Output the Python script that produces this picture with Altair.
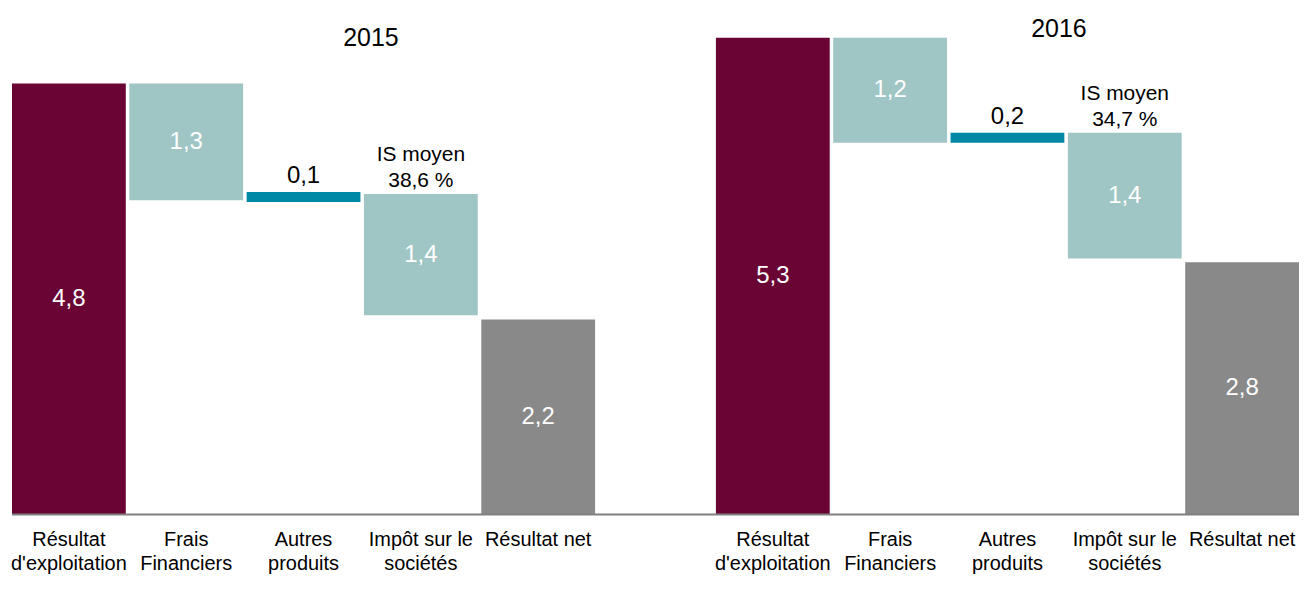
import altair as alt
import pandas as pd

categories = ["Résultat\nd'exploitation", "Frais\nFinanciers", "Autres\nproduits",
              "Impôt sur le\nsociétés", "Résultat net"]
kinds = ["total", "neg", "pos", "neg", "net"]

start_2015 = [0.0, 4.80, 3.48, 3.57, 0.0]
end_2015 = [4.80, 3.50, 3.59, 2.22, 2.17]
text_2015 = ["4,8", "1,3", "0,1", "1,4", "2,2"]

start_2016 = [0.0, 5.31, 4.14, 4.25, 0.0]
end_2016 = [5.31, 4.14, 4.25, 2.85, 2.81]
text_2016 = ["5,3", "1,2", "0,2", "1,4", "2,8"]

note_line1 = {"2015": "IS moyen", "2016": "IS moyen"}
note_line2 = {"2015": "38,6 %", "2016": "34,7 %"}

colors = {"total": "#6a0434", "neg": "#9fc5c4", "pos": "#0089a6", "net": "#898989"}

rows = []
for yr, st, en, tx in [("2015", start_2015, end_2015, text_2015),
                       ("2016", start_2016, end_2016, text_2016)]:
    for i, c in enumerate(categories):
        rows.append(dict(id=f"{yr}_{i}", year=yr, cat=c, kind=kinds[i],
                         lo=min(st[i], en[i]), hi=max(st[i], en[i]),
                         mid=(st[i] + en[i]) / 2, txt=tx[i],
                         n1=note_line1[yr] if i == 3 else "",
                         n2=note_line2[yr] if i == 3 else ""))
df = pd.DataFrame(rows)
domain = [f"2015_{i}" for i in range(5)] + ["gap"] + [f"2016_{i}" for i in range(5)]

FONT = "Liberation Sans, Arial, sans-serif"
W, H = 1290, 507

xscale = alt.Scale(domain=domain, paddingInner=0.03, paddingOuter=0)
yscale = alt.Scale(domain=[0, 5.633], nice=False)


def X(**kw):
    return alt.X("id:N", scale=xscale, axis=None, **kw)


base = alt.Chart(df)

bars = base.mark_bar().encode(
    x=X(),
    y=alt.Y("lo:Q", scale=yscale, axis=None), y2="hi:Q",
    color=alt.Color("kind:N", scale=alt.Scale(domain=list(colors.keys()),
                                              range=list(colors.values())), legend=None),
)

baseline = alt.Chart(pd.DataFrame({"v": [0.0]})).mark_rule(
    color="#808080", strokeWidth=2).encode(
    y=alt.Y("v:Q", scale=yscale, axis=None), x=alt.value(0), x2=alt.value(W))

inside = base.transform_filter("datum.kind != 'pos'").mark_text(
    color="white", fontSize=24, font=FONT, baseline="middle").encode(
    x=X(), y=alt.Y("mid:Q", scale=yscale, axis=None), text="txt:N")

above = base.transform_filter("datum.kind == 'pos'").mark_text(
    color="black", fontSize=24, font=FONT, baseline="alphabetic", dy=-9).encode(
    x=X(), y=alt.Y("hi:Q", scale=yscale, axis=None), text="txt:N")

note1 = base.transform_filter("datum.n1 != ''").mark_text(
    color="black", fontSize=21, font=FONT, baseline="alphabetic", dy=-33).encode(
    x=X(), y=alt.Y("hi:Q", scale=yscale, axis=None), text="n1:N")
note2 = base.transform_filter("datum.n2 != ''").mark_text(
    color="black", fontSize=21, font=FONT, baseline="alphabetic", dy=-7).encode(
    x=X(), y=alt.Y("hi:Q", scale=yscale, axis=None), text="n2:N")

catlabels = base.mark_text(
    color="black", fontSize=20, font=FONT, baseline="top", lineBreak="\n",
    lineHeight=24).encode(
    x=X(), y=alt.value(H + 16), text="cat:N")

titles = pd.DataFrame({"id": ["2015_3", "2016_3"], "t": ["2015", "2016"]})
t15 = alt.Chart(titles.iloc[[0]]).mark_text(
    fontSize=25, font=FONT, baseline="middle", dx=7).encode(
    x=X(bandPosition=0), y=alt.value(29), text="t:N")
t16 = alt.Chart(titles.iloc[[1]]).mark_text(
    fontSize=25, font=FONT, baseline="middle", dx=-9).encode(
    x=X(bandPosition=0), y=alt.value(20), text="t:N")

chart = alt.layer(bars, baseline, inside, above, note1, note2, catlabels, t15, t16).properties(
    width=W, height=H, background="white",
    padding={"left": 2, "top": 0, "right": 0, "bottom": 0},
).configure_view(strokeWidth=0, stroke="transparent").configure_axis(
    domain=False, grid=False)

chart.save("out.html", embed_options={"renderer": "svg", "actions": False})
